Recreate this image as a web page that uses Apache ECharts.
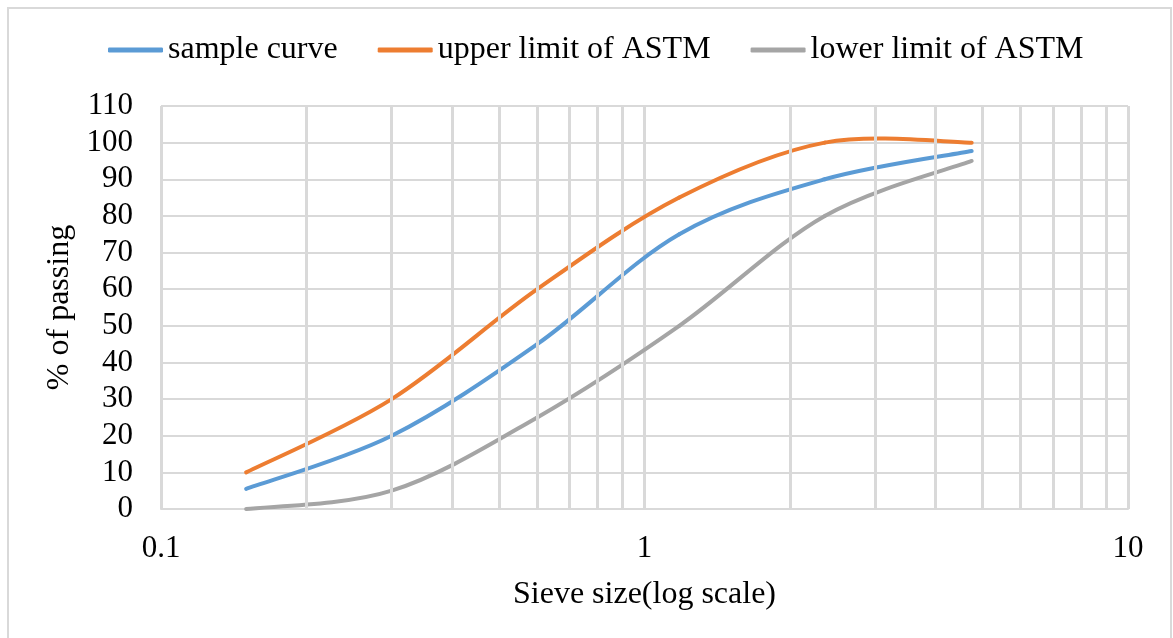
<!DOCTYPE html>
<html>
<head>
<meta charset="utf-8">
<script src="https://cdn.jsdelivr.net/npm/echarts@6/dist/echarts.min.js"></script>
<style>
  html, body { margin: 0; padding: 0; background: #ffffff; }
  #chart { width: 1173px; height: 638px; }
</style>
</head>
<body>
<div id="chart"></div>
<script>
// Sieve sizes (mm) and percent passing for each curve
const sieveSizes = [0.15, 0.3, 0.6, 1.18, 2.36, 4.75];
const sampleCurve = [5.5, 20, 45, 75, 90, 97.7];
const upperLimit = [10, 30, 60, 85, 100, 100];
const lowerLimit = [0, 5, 25, 50, 80, 95];

// Intermediate log-decade gridline positions
const minorGrid = [0.2, 0.3, 0.4, 0.5, 0.6, 0.7, 0.8, 0.9, 2, 3, 4, 5, 6, 7, 8, 9];

const seriesNames = ['sample curve', 'upper limit of ASTM', 'lower limit of ASTM'];
const seriesValues = [sampleCurve, upperLimit, lowerLimit];
const seriesColors = ['#5B9BD5', '#ED7D31', '#A5A5A5'];

const font = '"Liberation Serif", "Times New Roman", serif';
const gridColor = '#D9D9D9';

const chart = echarts.init(document.getElementById('chart'));

// Each data item draws the smoothed segment from its point to the next one
// (Catmull-Rom style cubic Bezier in screen space, like an office "smoothed line").
function makeCurveSeries(name, values, color) {
  const pts = sieveSizes.map((s, j) => [s, values[j]]);
  return {
    name: name,
    type: 'custom',
    coordinateSystem: 'cartesian2d',
    z: 3,
    itemStyle: { color: color },
    data: pts,
    renderItem: function (params, api) {
      const i = params.dataIndex;
      if (i >= pts.length - 1) return null;
      const c = k => api.coord(pts[Math.max(0, Math.min(pts.length - 1, k))]);
      const p0 = c(i - 1), p1 = c(i), p2 = c(i + 1), p3 = c(i + 2);
      const t = 1 / 6;
      return {
        type: 'bezierCurve',
        shape: {
          x1: p1[0], y1: p1[1],
          x2: p2[0], y2: p2[1],
          cpx1: p1[0] + (p2[0] - p0[0]) * t,
          cpy1: p1[1] + (p2[1] - p0[1]) * t,
          cpx2: p2[0] - (p3[0] - p1[0]) * t,
          cpy2: p2[1] - (p3[1] - p1[1]) * t
        },
        style: { stroke: color, lineWidth: 4, fill: null, lineCap: 'round' }
      };
    }
  };
}

const curveSeries = seriesNames.map((n, i) => makeCurveSeries(n, seriesValues[i], seriesColors[i]));

const gridSeries = {
  name: 'grid',
  type: 'line',
  data: [],
  z: 1,
  silent: true,
  markLine: {
    silent: true,
    symbol: 'none',
    label: { show: false },
    lineStyle: { color: gridColor, width: 3, type: 'solid' },
    data: minorGrid.map(v => ({ xAxis: v }))
  }
};

chart.setOption({
  backgroundColor: '#ffffff',
  animation: false,
  graphic: [{
    type: 'rect',
    shape: { x: 8, y: 8, width: 1163, height: 640 },
    style: { fill: 'none', stroke: gridColor, lineWidth: 2 },
    z: 0
  }],
  legend: {
    data: seriesNames.map((n, i) => ({ name: n, icon: 'roundRect', itemStyle: { color: seriesColors[i] } })),
    top: 34,
    left: 108,
    padding: 0,
    itemWidth: 55,
    itemHeight: 5,
    itemGap: 40,
    textStyle: { fontFamily: font, fontSize: 32, color: '#000000' }
  },
  grid: { left: 161, right: 45, top: 106, bottom: 129 },
  xAxis: {
    type: 'log',
    logBase: 10,
    min: 0.1,
    max: 10,
    name: 'Sieve size(log scale)',
    nameLocation: 'middle',
    nameGap: 70,
    nameTextStyle: { fontFamily: font, fontSize: 32, color: '#000000' },
    axisLine: { show: true, lineStyle: { color: gridColor, width: 2 } },
    axisTick: { show: false },
    axisLabel: { fontFamily: font, fontSize: 31, color: '#000000', margin: 24 },
    splitLine: { show: true, lineStyle: { color: gridColor, width: 3 } }
  },
  yAxis: {
    type: 'value',
    min: 0,
    max: 110,
    interval: 10,
    name: '% of passing',
    nameLocation: 'middle',
    nameGap: 73,
    nameTextStyle: { fontFamily: font, fontSize: 32, color: '#000000' },
    axisLine: { show: false },
    axisTick: { show: false },
    axisLabel: { fontFamily: font, fontSize: 31, color: '#000000', margin: 28 },
    splitLine: { show: true, lineStyle: { color: gridColor, width: 2 } }
  },
  series: [gridSeries].concat(curveSeries)
});
</script>
</body>
</html>
